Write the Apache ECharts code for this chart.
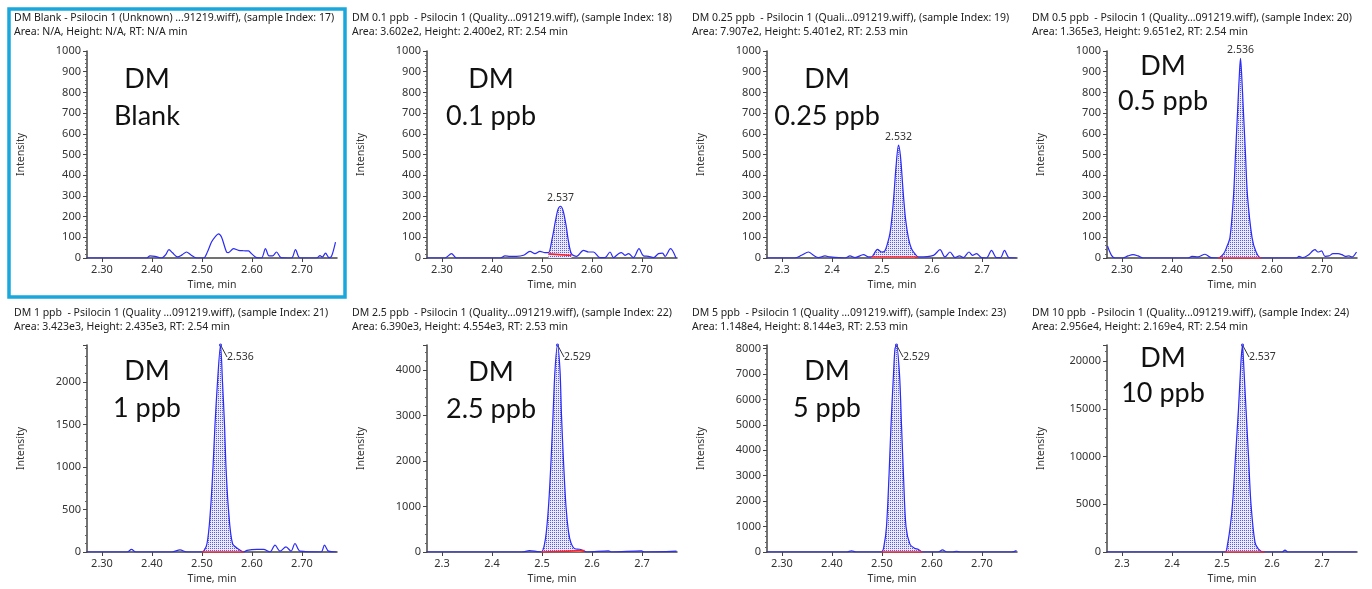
<!DOCTYPE html>
<html>
<head>
<meta charset="utf-8">
<script src="https://cdn.jsdelivr.net/npm/echarts@6/dist/echarts.min.js"></script>
<style>
html, body { margin: 0; padding: 0; background: #fff; }
#main { width: 1372px; height: 589px; }
</style>
</head>
<body>
<div id="main"></div>
<script>
// chromatogram data, one pair of arrays per sample (time in min, intensity in cps)
var timeBlank = [2.270, 2.300, 2.350, 2.389, 2.396, 2.406, 2.419, 2.427, 2.434, 2.441, 2.451, 2.460, 2.469, 2.478, 2.489, 2.503, 2.511, 2.519, 2.527, 2.533, 2.539, 2.549, 2.553, 2.563, 2.573, 2.583, 2.593, 2.599, 2.609, 2.619, 2.627, 2.634, 2.641, 2.649, 2.658, 2.679, 2.687, 2.696, 2.729, 2.736, 2.741, 2.747, 2.754, 2.759, 2.767];
var intBlank = [0, 0, 0, 0, 10, 8, 0, 15, 40, 25, 5, 15, 29, 15, 0, 0, 30, 77, 105, 117, 101, 29, 26, 45, 37, 35, 34, 21, 2, 0, 45, 10, 10, 29, 2, 0, 40, 0, 0, 11, 5, 24, 2, 8, 77];

var time01 = [2.270, 2.306, 2.319, 2.329, 2.380, 2.416, 2.426, 2.436, 2.449, 2.463, 2.476, 2.486, 2.496, 2.506, 2.513, 2.520, 2.527, 2.532, 2.537, 2.542, 2.548, 2.553, 2.559, 2.569, 2.583, 2.593, 2.603, 2.616, 2.626, 2.636, 2.643, 2.653, 2.659, 2.666, 2.673, 2.683, 2.694, 2.703, 2.713, 2.723, 2.733, 2.741, 2.746, 2.757, 2.768];
var int01 = [0, 0, 21, 0, 0, 0, 10, 8, 8, 13, 32, 21, 32, 26, 26, 90, 180, 235, 250, 230, 160, 80, 20, 8, 37, 29, 29, 2, 2, 29, 2, 21, 26, 13, 21, 2, 45, 10, 8, 2, 21, 24, 8, 45, 0];

var time025 = [2.270, 2.326, 2.339, 2.353, 2.363, 2.373, 2.386, 2.396, 2.426, 2.436, 2.446, 2.463, 2.473, 2.479, 2.491, 2.499, 2.505, 2.511, 2.516, 2.520, 2.524, 2.528, 2.533, 2.537, 2.542, 2.547, 2.553, 2.559, 2.566, 2.573, 2.603, 2.616, 2.626, 2.636, 2.646, 2.655, 2.663, 2.674, 2.681, 2.689, 2.699, 2.709, 2.719, 2.729, 2.737, 2.745, 2.754, 2.769];
var int025 = [0, 0, 13, 29, 13, 2, 10, 5, 0, 10, 2, 16, 5, 5, 42, 29, 32, 70, 120, 200, 310, 440, 545, 490, 330, 190, 95, 45, 20, 5, 13, 40, 5, 29, 2, 10, 2, 29, 13, 21, 2, 0, 37, 2, 2, 37, 2, 0];

var time05 = [2.271, 2.279, 2.286, 2.302, 2.312, 2.322, 2.332, 2.342, 2.432, 2.440, 2.452, 2.466, 2.478, 2.492, 2.503, 2.509, 2.516, 2.523, 2.527, 2.531, 2.535, 2.537, 2.539, 2.543, 2.547, 2.551, 2.560, 2.568, 2.578, 2.649, 2.654, 2.662, 2.672, 2.686, 2.692, 2.699, 2.706, 2.714, 2.722, 2.732, 2.740, 2.747, 2.754, 2.760, 2.769];
var int05 = [58, 13, 0, 0, 10, 16, 10, 0, 0, 8, 5, 18, 2, 0, 20, 50, 100, 300, 500, 700, 900, 965, 900, 700, 500, 300, 100, 30, 0, 0, 8, 2, 13, 40, 29, 34, 8, 10, 21, 21, 16, 8, 10, 5, 29];

var time1 = [2.270, 2.350, 2.359, 2.368, 2.440, 2.456, 2.470, 2.500, 2.510, 2.517, 2.522, 2.526, 2.531, 2.537, 2.541, 2.545, 2.548, 2.553, 2.561, 2.574, 2.583, 2.590, 2.610, 2.623, 2.636, 2.646, 2.656, 2.668, 2.678, 2.686, 2.696, 2.738, 2.745, 2.753, 2.769];
var int1 = [0, 0, 30, 0, 0, 25, 0, 0, 100, 500, 1000, 1500, 2000, 2435, 2000, 1500, 1000, 500, 100, 30, 0, 20, 30, 30, 0, 80, 10, 60, 10, 100, 10, 0, 80, 10, 0];

var time25 = [2.270, 2.460, 2.475, 2.490, 2.499, 2.507, 2.513, 2.518, 2.522, 2.526, 2.531, 2.536, 2.539, 2.543, 2.548, 2.553, 2.558, 2.566, 2.575, 2.583, 2.590, 2.633, 2.640, 2.699, 2.705, 2.769];
var int25 = [0, 0, 30, 10, 0, 300, 1000, 2000, 3000, 4000, 4554, 4000, 3000, 2000, 1000, 450, 200, 70, 60, 30, 0, 25, 0, 25, 0, 20];

var time5 = [2.270, 2.430, 2.439, 2.448, 2.499, 2.504, 2.509, 2.514, 2.518, 2.523, 2.526, 2.529, 2.535, 2.539, 2.543, 2.548, 2.556, 2.565, 2.573, 2.581, 2.612, 2.621, 2.630, 2.642, 2.649, 2.656, 2.760, 2.769];
var int5 = [0, 0, 50, 0, 0, 250, 1000, 3000, 5000, 7000, 8000, 8144, 7000, 5000, 3000, 1000, 300, 150, 100, 0, 0, 80, 0, 0, 30, 0, 0, 60];

var time10 = [2.270, 2.506, 2.511, 2.516, 2.521, 2.527, 2.533, 2.538, 2.541, 2.543, 2.548, 2.553, 2.558, 2.566, 2.573, 2.583, 2.620, 2.626, 2.632, 2.769];
var int10 = [0, 0, 800, 2500, 5000, 10000, 15000, 20000, 21690, 20000, 15000, 10000, 5000, 1000, 300, 0, 0, 200, 0, 0];

// integration baselines (start, end)
var base01 = [[2.513, 20], [2.559, 12]];
var base025 = [[2.479, 5], [2.571, 5]];
var base05 = [[2.492, 0], [2.578, 0]];
var base1 = [[2.500, 0], [2.583, 0]];
var base25 = [[2.499, 0], [2.585, 30]];
var base5 = [[2.499, 0], [2.581, 0]];
var base10 = [[2.506, 0], [2.585, 0]];

var peakLabels = ['', '2.537', '2.532', '2.536', '2.536', '2.529', '2.529', '2.537'];

var titleLine1 = [
    'DM Blank - Psilocin 1 (Unknown) ...91219.wiff), (sample Index: 17)',
    'DM 0.1 ppb  - Psilocin 1 (Quality...091219.wiff), (sample Index: 18)',
    'DM 0.25 ppb  - Psilocin 1 (Quali...091219.wiff), (sample Index: 19)',
    'DM 0.5 ppb  - Psilocin 1 (Quality...091219.wiff), (sample Index: 20)',
    'DM 1 ppb  - Psilocin 1 (Quality ...091219.wiff), (sample Index: 21)',
    'DM 2.5 ppb  - Psilocin 1 (Quality...091219.wiff), (sample Index: 22)',
    'DM 5 ppb  - Psilocin 1 (Quality ...091219.wiff), (sample Index: 23)',
    'DM 10 ppb  - Psilocin 1 (Quality...091219.wiff), (sample Index: 24)'
];
var titleLine2 = [
    'Area: N/A, Height: N/A, RT: N/A min',
    'Area: 3.602e2, Height: 2.400e2, RT: 2.54 min',
    'Area: 7.907e2, Height: 5.401e2, RT: 2.53 min',
    'Area: 1.365e3, Height: 9.651e2, RT: 2.54 min',
    'Area: 3.423e3, Height: 2.435e3, RT: 2.54 min',
    'Area: 6.390e3, Height: 4.554e3, RT: 2.53 min',
    'Area: 1.148e4, Height: 8.144e3, RT: 2.53 min',
    'Area: 2.956e4, Height: 2.169e4, RT: 2.54 min'
];
var noteLine1 = ['DM', 'DM', 'DM', 'DM', 'DM', 'DM', 'DM', 'DM'];
var noteLine2 = ['Blank', '0.1 ppb', '0.25 ppb', '0.5 ppb', '1 ppb', '2.5 ppb', '5 ppb', '10 ppb'];

var xTicks = [2.3, 2.4, 2.5, 2.6, 2.7];
var xDecimals = [2, 2, 1, 2, 2, 1, 2, 1];
var yMax = [1000, 1000, 1000, 1000, 2435, 4554, 8144, 21690];
var yStep = [100, 100, 100, 100, 500, 1000, 1000, 5000];

var times = [timeBlank, time01, time025, time05, time1, time25, time5, time10];
var intensities = [intBlank, int01, int025, int05, int1, int25, int5, int10];
var baselines = [null, base01, base025, base05, base1, base25, base5, base10];

// layout
var colLeft = [87, 427, 767, 1107];
var rowTop = [51, 345];
var titleLeft = [14, 352, 692, 1032];
var titleTop = [13, 308];
var noteX = [147, 491, 827, 1163, 147, 491, 827, 1163];
var noteY = [79, 79, 79, 66, 371, 372, 371, 358];
var noteY2 = [116, 116, 116, 101, 408, 409, 408, 393];

var smallFont = 'Noto Sans';

function dotPattern() {
    var c = document.createElement('canvas');
    c.width = 2;
    c.height = 2;
    var g = c.getContext('2d');
    g.fillStyle = '#eaeafc';
    g.fillRect(0, 0, 2, 2);
    g.fillStyle = '#5a5aee';
    g.fillRect(0, 0, 1, 1);
    return c;
}
var pattern = dotPattern();

var grid = [], xAxis = [], yAxis = [], series = [], title = [];
var graphic = [{
    type: 'rect',
    shape: { x: 9, y: 9, width: 336, height: 288 },
    style: { fill: 'none', stroke: '#18a8dc', lineWidth: 3.5 },
    silent: true
}];

for (var i = 0; i < 8; i++) {
    var row = Math.floor(i / 4), col = i % 4;
    grid.push({ left: colLeft[col], top: rowTop[row], width: 250, height: 207 });
    title.push({
        left: titleLeft[col], top: titleTop[row], padding: 0, itemGap: 3,
        text: titleLine1[i], subtext: titleLine2[i],
        textStyle: { fontSize: 10.5, fontWeight: 'normal', color: '#222', fontFamily: smallFont },
        subtextStyle: { fontSize: 10.5, color: '#222', fontFamily: smallFont }
    });
    (function (dec) {
        xAxis.push({
            type: 'value', gridIndex: i, min: 2.27, max: 2.77,
            axisLine: { lineStyle: { color: '#444', width: 1.5 } },
            axisTick: { customValues: xTicks, length: 4, lineStyle: { color: '#444' } },
            axisLabel: {
                customValues: xTicks, color: '#333', fontSize: 11, margin: 6, fontFamily: smallFont,
                formatter: function (v) { return v.toFixed(dec); }
            },
            splitLine: { show: false },
            name: 'Time, min', nameLocation: 'middle', nameGap: 22,
            nameTextStyle: { color: '#333', fontSize: 10.5, fontFamily: smallFont }
        });
    })(xDecimals[i]);
    yAxis.push({
        type: 'value', gridIndex: i, min: 0, max: yMax[i], interval: yStep[i],
        axisLine: { show: true, lineStyle: { color: '#444', width: 1.5 } },
        axisTick: { show: true, length: 4, lineStyle: { color: '#444' } },
        minorTick: { show: true, splitNumber: 5, length: 2, lineStyle: { color: '#666' } },
        axisLabel: {
            color: '#333', fontSize: 11, margin: 6, fontFamily: smallFont, showMaxLabel: row === 0,
            formatter: function (v) { return String(v); }
        },
        splitLine: { show: false },
        name: 'Intensity', nameLocation: 'middle', nameGap: 60,
        nameTextStyle: { color: '#333', fontSize: 10.5, fontFamily: smallFont }
    });

    var t = times[i], v = intensities[i];
    var peakIdx = v.indexOf(Math.max.apply(null, v));
    var pts = [];
    for (var k = 0; k < t.length; k++) {
        if (i > 0 && k === peakIdx) {
            pts.push({
                value: [t[k], v[k]],
                symbolSize: row === 1 ? 1 : 0,
                label: row === 0
                    ? { show: true, position: 'top', distance: 3, formatter: peakLabels[i] }
                    : { show: true, position: 'right', distance: 1, formatter: peakLabels[i] },
                labelLine: { show: row === 1, length2: 0, lineStyle: { color: '#333', width: 1 } }
            });
        } else {
            pts.push([t[k], v[k]]);
        }
    }
    series.push({
        type: 'line', xAxisIndex: i, yAxisIndex: i, data: pts, smooth: 0.3,
        showSymbol: true, showAllSymbol: true, symbolSize: 0,
        lineStyle: { color: '#2b2bf5', width: 1.2 },
        itemStyle: { color: '#2b2bf5' },
        label: { show: false, color: '#333', fontSize: 10.5, fontFamily: smallFont },
        labelLine: { show: row === 1, lineStyle: { color: '#333', width: 1 } },
        labelLayout: row === 1 ? { dx: 4, dy: 12 } : null,
        emphasis: { disabled: true },
        z: 3
    });

    if (baselines[i]) {
        var b = baselines[i];
        var fill = [];
        for (var k2 = 0; k2 < t.length; k2++) {
            if (t[k2] >= b[0][0] && t[k2] <= b[1][0]) fill.push([t[k2], v[k2]]);
        }
        series.push({
            type: 'line', xAxisIndex: i, yAxisIndex: i, data: fill, smooth: 0.3,
            symbol: 'none', lineStyle: { width: 0 },
            areaStyle: { color: { image: pattern, repeat: 'repeat' }, opacity: 1 },
            emphasis: { disabled: true }, z: 2
        });
        series.push({
            type: 'line', xAxisIndex: i, yAxisIndex: i, data: b,
            symbol: 'none', lineStyle: { color: '#ff2020', width: 1.6 },
            emphasis: { disabled: true }, z: 4
        });
    }

    graphic.push({
        type: 'text', x: noteX[i], y: noteY[i], silent: true,
        style: { text: noteLine1[i], fontSize: 27, fontFamily: 'Lato', fill: '#111', align: 'center', verticalAlign: 'middle' }
    });
    graphic.push({
        type: 'text', x: noteX[i], y: noteY2[i], silent: true,
        style: { text: noteLine2[i], fontSize: 27, fontFamily: 'Lato', fill: '#111', align: 'center', verticalAlign: 'middle' }
    });
}

var chart = echarts.init(document.getElementById('main'));
chart.setOption({
    animation: false,
    backgroundColor: '#fff',
    title: title,
    grid: grid,
    xAxis: xAxis,
    yAxis: yAxis,
    series: series,
    graphic: graphic
});
</script>
</body>
</html>
